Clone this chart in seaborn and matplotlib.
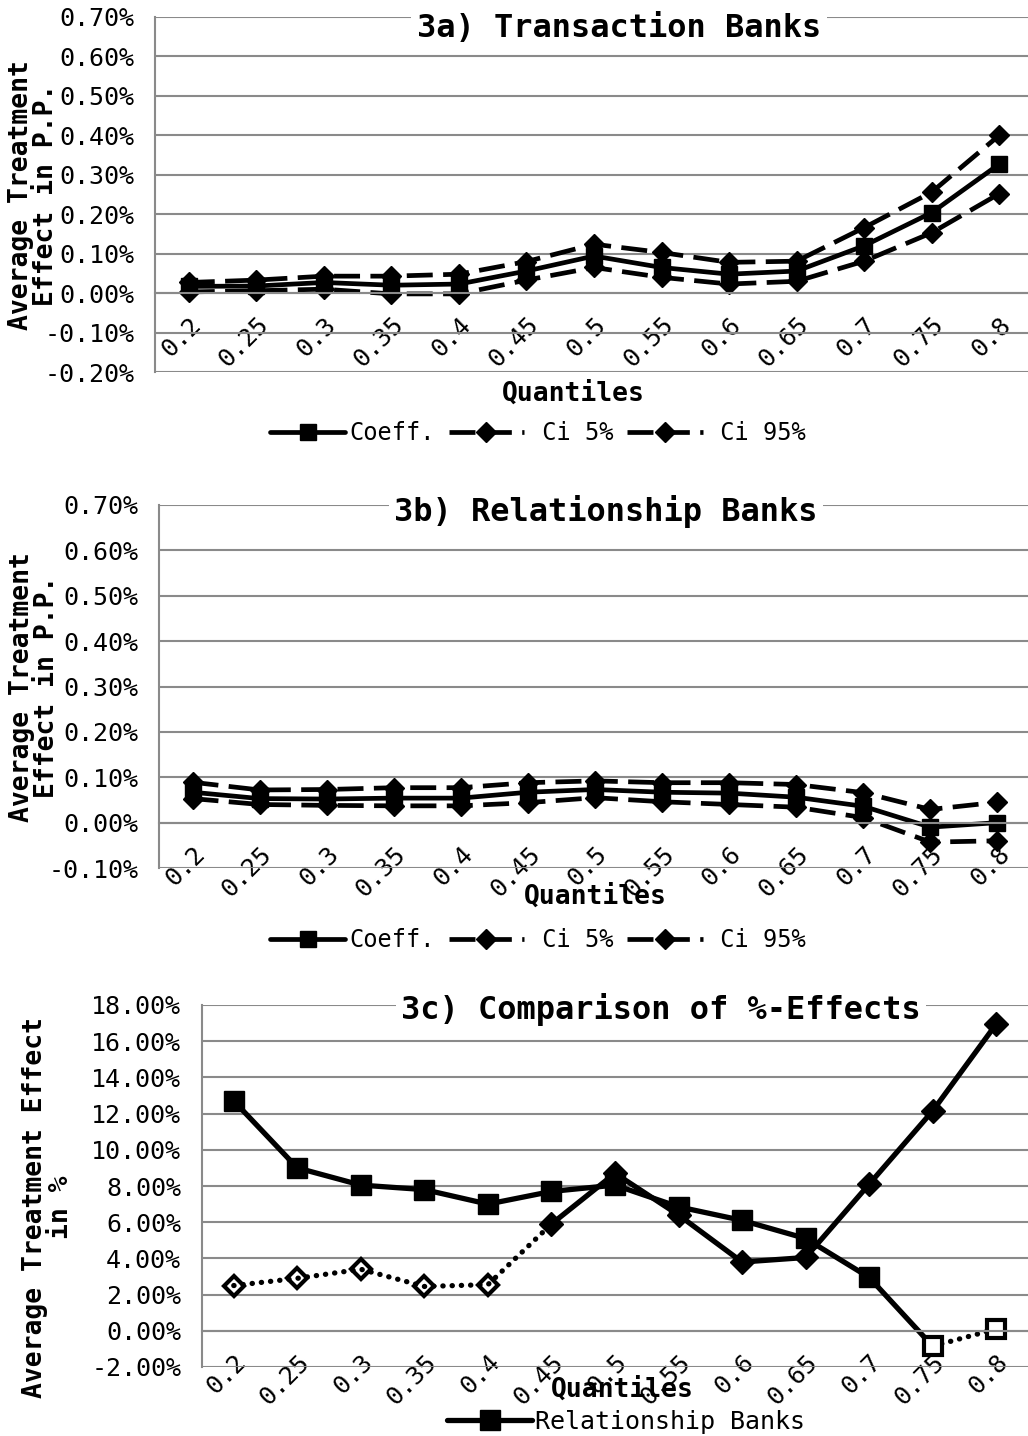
import numpy as np
import matplotlib
matplotlib.use("Agg")
import matplotlib.pyplot as plt
import seaborn as sns
from matplotlib.ticker import FuncFormatter, MultipleLocator
from matplotlib.lines import Line2D

# ---------------- data ----------------
quantiles = ["0.2", "0.25", "0.3", "0.35", "0.4", "0.45", "0.5",
             "0.55", "0.6", "0.65", "0.7", "0.75", "0.8"]

# 3a) Transaction banks (percentage points, in %)
ta_coeff = [0.017, 0.018, 0.027, 0.020, 0.023, 0.056, 0.094, 0.065, 0.048, 0.056, 0.120, 0.204, 0.327]
ta_ci5 = [0.003, 0.006, 0.010, -0.002, -0.002, 0.033, 0.065, 0.040, 0.023, 0.030, 0.081, 0.153, 0.252]
ta_ci95 = [0.027, 0.033, 0.043, 0.043, 0.048, 0.080, 0.124, 0.103, 0.078, 0.081, 0.166, 0.256, 0.400]

# 3b) Relationship banks
rb_coeff = [0.067, 0.053, 0.052, 0.054, 0.054, 0.067, 0.073, 0.067, 0.065, 0.056, 0.036, -0.010, 0.000]
rb_ci5 = [0.053, 0.040, 0.038, 0.037, 0.037, 0.044, 0.055, 0.046, 0.040, 0.034, 0.011, -0.043, -0.040]
rb_ci95 = [0.089, 0.072, 0.073, 0.077, 0.077, 0.088, 0.092, 0.088, 0.088, 0.084, 0.066, 0.029, 0.045]

# 3c) comparison of %-effects
pct_relationship = [12.7, 9.0, 8.05, 7.8, 7.0, 7.7, 8.05, 6.85, 6.1, 5.1, 2.95, -0.85, 0.1]
pct_transaction = [2.5, 2.9, 3.4, 2.45, 2.55, 5.9, 8.7, 6.4, 3.8, 4.05, 8.1, 12.15, 16.95]
sig_relationship = [True] * 11 + [False] * 2
sig_transaction = [False] * 5 + [True] * 8

ci_labels = ["Coeff.", " Ci 5%", " Ci 95%"]

# ---------------- style ----------------
sns.set_theme(style="white")
plt.rcParams["font.family"] = ["DejaVu Sans Mono", "DejaVu Sans"]
plt.rcParams["text.color"] = "black"
plt.rcParams["xtick.color"] = "black"
plt.rcParams["ytick.color"] = "black"
plt.rcParams["axes.labelcolor"] = "black"

W, H = 1028, 1436
fig = plt.figure(figsize=(W / 100, H / 100), dpi=100)
GRID = "#8a8a8a"
FS = 18
DASH = (0, (5.5, 2.2))
DOT = (0, (0.05, 1.7))
LW = 3.4


def add_ax(left, right, top, bottom):
    return fig.add_axes([left / W, 1 - bottom / H, (right - left) / W, (bottom - top) / H])


def style_axes(ax, ylim, step):
    n = len(quantiles)
    ax.set_xlim(-0.5, n - 0.5)
    ax.set_ylim(*ylim)
    ax.yaxis.set_major_locator(MultipleLocator(step))
    ax.yaxis.set_major_formatter(FuncFormatter(lambda v, p: f"{v:.2f}%"))
    ax.grid(axis="y", color=GRID, lw=1.5)
    ax.grid(axis="x", visible=False)
    ax.set_axisbelow(True)
    for s in ["top", "right"]:
        ax.spines[s].set_visible(False)
    ax.spines["left"].set_color(GRID)
    ax.spines["left"].set_linewidth(1.5)
    ax.spines["bottom"].set_position(("data", 0))
    ax.spines["bottom"].set_color(GRID)
    ax.spines["bottom"].set_linewidth(1.5)
    ax.set_xticks(np.arange(n))
    ax.set_xticklabels(quantiles, rotation=45, ha="right", va="top",
                       rotation_mode="anchor", fontsize=FS)
    ax.set_xticks(np.arange(-0.5, n), minor=True)
    ax.tick_params(axis="x", which="major", length=0, pad=14)
    ax.tick_params(axis="x", which="minor", length=5, width=1.5, color=GRID, direction="out")
    ax.tick_params(axis="y", length=5, width=1.5, color=GRID, direction="out",
                   pad=10, labelsize=FS, labelcolor="black")
    ax.set_xlabel("")
    ax.set_ylabel("")


def draw_ci_panel(ax, coeff, ci5, ci95):
    x = np.arange(len(quantiles))
    for vals in (ci95, ci5):
        sns.lineplot(x=x, y=vals, ax=ax, color="black", lw=LW, linestyle=DASH,
                     marker="D", ms=10, mfc="black", mec="black", mew=1, legend=False)
    sns.lineplot(x=x, y=coeff, ax=ax, color="black", lw=LW, marker="s", ms=12,
                 mfc="black", mec="black", mew=1, legend=False)


def ci_legend(ax, cy):
    handles = [
        Line2D([], [], color="black", lw=LW, marker="s", ms=12),
        Line2D([], [], color="black", lw=LW, ls=DASH, marker="D", ms=10),
        Line2D([], [], color="black", lw=LW, ls=DASH, marker="D", ms=10),
    ]
    ax.legend(handles, ci_labels, loc="center",
              bbox_to_anchor=(538 / W, 1 - cy / H), bbox_transform=fig.transFigure,
              ncol=3, frameon=False, handlelength=3.2, handletextpad=0.15,
              columnspacing=0.6, fontsize=17)


def title(ax, text, cx, cy):
    fig.text(cx / W, 1 - cy / H, text, ha="center", va="center", fontsize=23,
             fontweight="bold", bbox=dict(facecolor="white", edgecolor="none", pad=4))


def ylab(text, cx, cy):
    fig.text(cx / W, 1 - cy / H, text, ha="center", va="center", rotation=90,
             fontsize=19, fontweight="bold", linespacing=0.95)


def xlab(cx, cy):
    fig.text(cx / W, 1 - cy / H, "Quantiles", ha="center", va="center",
             fontsize=19, fontweight="bold")


# ---------------- panel a ----------------
ax1 = add_ax(155, 1033, 17, 372)
style_axes(ax1, (-0.2, 0.7), 0.1)
draw_ci_panel(ax1, ta_coeff, ta_ci5, ta_ci95)
title(ax1, "3a) Transaction Banks", 619, 28)
ylab("Average Treatment\nEffect in P.P.", 34, 195)
xlab(573, 394)
ci_legend(ax1, 433)

# ---------------- panel b ----------------
ax2 = add_ax(159, 1031, 505, 868)
style_axes(ax2, (-0.1, 0.7), 0.1)
draw_ci_panel(ax2, rb_coeff, rb_ci5, rb_ci95)
title(ax2, "3b) Relationship Banks", 606, 512)
ylab("Average Treatment\nEffect in P.P.", 35, 687)
xlab(595, 897)
ci_legend(ax2, 940)

# ---------------- panel c ----------------
ax3 = add_ax(202, 1028, 1005, 1367)
style_axes(ax3, (-2, 18), 2)
x = np.arange(len(quantiles))


def draw_segmented(ax, vals, sig, marker, ms, hollow_fc):
    vals = np.asarray(vals, dtype=float)
    sig = list(sig)
    n = len(vals)
    # segment style follows the significance of its starting point
    start = 0
    for i in range(1, n):
        if i == n - 1 or sig[i] != sig[start]:
            end = i
            ls = "-" if sig[start] else DOT
            sns.lineplot(x=x[start:end + 1], y=vals[start:end + 1], ax=ax, color="black",
                         lw=LW + 0.4, linestyle=ls, dash_capstyle="round",
                         legend=False)
            start = i
    s = np.array(sig)
    if s.any():
        sns.lineplot(x=x[s], y=vals[s], ax=ax, color="black", linestyle="none",
                     marker=marker, ms=ms, mfc="black", mec="black", mew=1, legend=False)
    if (~s).any():
        sns.lineplot(x=x[~s], y=vals[~s], ax=ax, color="black", linestyle="none",
                     marker=marker, ms=ms - 2, mfc=hollow_fc, mec="black", mew=3, legend=False)


draw_segmented(ax3, pct_transaction, sig_transaction, "D", 12, "none")
draw_segmented(ax3, pct_relationship, sig_relationship, "s", 15, "white")

title(ax3, "3c) Comparison of %-Effects", 661, 1010)
ylab("Average Treatment Effect\nin %", 48, 1207)
xlab(622, 1390)
ax3.legend([Line2D([], [], color="black", lw=LW + 0.4, marker="s", ms=15)],
           ["Relationship Banks"], loc="center",
           bbox_to_anchor=(626 / W, 1 - 1422 / H), bbox_transform=fig.transFigure,
           frameon=False, handlelength=3.4, handletextpad=0.1, fontsize=18)

fig.savefig("out.png", dpi=100)
